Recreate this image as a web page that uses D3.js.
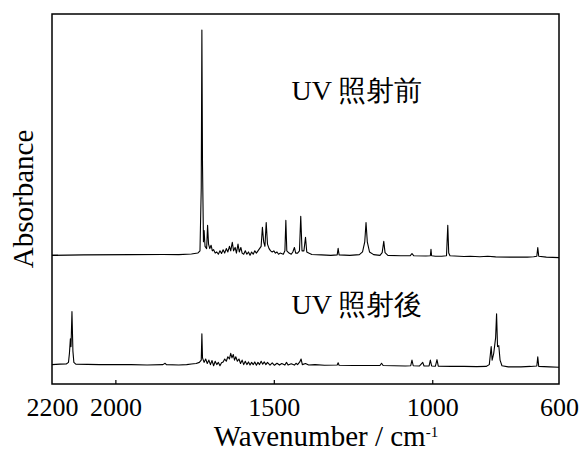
<!DOCTYPE html>
<html>
<head>
<meta charset="utf-8">
<script src="https://cdn.jsdelivr.net/npm/d3@7"></script>
<style>
  body { margin: 0; background: #fff; }
  svg { display: block; }
</style>
</head>
<body>
<div id="chart"></div>
<script>
// Tick labels on the reversed wavenumber axis
const xTicks = [2200, 2000, 1500, 1000, 600];

// Spectrum labels
const labelBefore = 'UV 照射前';
const labelAfter = 'UV 照射後';

// Vertical offsets of each trace (arbitrary absorbance units)
const offsetBefore = 0.571;
const offsetAfter = 0.086;

// Before UV irradiation: [wavenumber, absorbance above its baseline]
const spectrumBefore = [
    [2200, 0.000], [2100, 0.002], [1950, 0.003], [1850, 0.004], [1800, 0.003],
    [1760, 0.006], [1740, 0.010], [1733, 0.020], [1729, 0.300], [1727, 1.000],
    [1725, 0.400], [1722, 0.060], [1720, 0.110], [1717, 0.040], [1712, 0.030],
    [1709, 0.133], [1706, 0.050], [1702, 0.030], [1698, 0.045], [1694, 0.020],
    [1690, 0.025], [1685, 0.010], [1680, 0.015], [1675, 0.005], [1670, 0.020],
    [1665, 0.008], [1660, 0.025], [1655, 0.010], [1650, 0.030], [1645, 0.015],
    [1640, 0.040], [1636, 0.020], [1631, 0.058], [1627, 0.020], [1622, 0.035],
    [1618, 0.010], [1613, 0.050], [1609, 0.015], [1604, 0.035], [1600, 0.010],
    [1595, 0.005], [1590, 0.020], [1585, 0.005], [1580, 0.015], [1575, 0.000],
    [1570, 0.015], [1565, 0.005], [1560, 0.020], [1555, 0.010], [1550, 0.020],
    [1545, 0.030], [1540, 0.040], [1536, 0.124], [1532, 0.060], [1528, 0.040],
    [1524, 0.146], [1520, 0.050], [1515, 0.030], [1510, 0.020], [1505, 0.015],
    [1500, 0.020], [1495, 0.010], [1490, 0.015], [1485, 0.005], [1480, 0.010],
    [1470, 0.005], [1465, 0.020], [1462, 0.155], [1459, 0.020], [1452, 0.010],
    [1445, 0.005], [1440, 0.015], [1435, 0.035], [1431, 0.010], [1425, 0.010],
    [1419, 0.020], [1415, 0.173], [1411, 0.020], [1405, 0.020], [1400, 0.080],
    [1396, 0.015], [1390, 0.010], [1380, 0.004], [1350, 0.002], [1320, 0.000],
    [1300, 0.002], [1297, 0.031], [1294, 0.002], [1260, 0.000], [1230, 0.003],
    [1220, 0.015], [1213, 0.060], [1209, 0.146], [1205, 0.060], [1198, 0.015],
    [1185, 0.003], [1165, 0.000], [1158, 0.012], [1153, 0.062], [1149, 0.012],
    [1140, 0.000], [1100, -0.002], [1070, -0.002], [1064, 0.008], [1058, -0.002],
    [1020, -0.003], [1006, -0.002], [1004, 0.027], [1002, -0.002], [990, -0.004],
    [970, -0.004], [955, -0.002], [951, 0.133], [948, 0.010], [944, -0.002],
    [900, -0.005], [880, -0.004], [850, -0.006], [825, -0.004], [800, -0.007],
    [750, -0.008], [700, -0.008], [680, -0.006], [670, -0.004], [667, 0.035],
    [664, -0.004], [640, -0.008], [600, -0.010]
];

// After UV irradiation
const spectrumAfter = [
    [2200, 0.000], [2175, 0.002], [2155, 0.003], [2148, 0.010], [2145, 0.050],
    [2142, 0.115], [2140, 0.080], [2137, 0.235], [2134, 0.060], [2131, 0.010],
    [2125, 0.002], [2050, 0.000], [2000, 0.000], [1950, 0.000], [1900, -0.002],
    [1850, 0.000], [1843, 0.006], [1839, 0.000], [1800, -0.002], [1775, 0.000],
    [1760, 0.003], [1745, 0.005], [1735, 0.010], [1729, 0.020], [1727, 0.137],
    [1725, 0.030], [1720, 0.010], [1715, 0.025], [1710, 0.005], [1705, 0.020],
    [1700, 0.000], [1695, 0.018], [1690, -0.005], [1685, 0.015], [1680, 0.000],
    [1675, 0.010], [1670, -0.005], [1665, 0.008], [1660, 0.012], [1655, 0.025],
    [1650, 0.015], [1645, 0.035], [1640, 0.025], [1636, 0.050], [1632, 0.030],
    [1628, 0.045], [1624, 0.020], [1620, 0.035], [1615, 0.015], [1610, 0.025],
    [1605, 0.005], [1600, 0.020], [1595, 0.000], [1590, 0.015], [1585, 0.000],
    [1580, 0.012], [1575, -0.002], [1570, 0.010], [1565, 0.000], [1560, 0.012],
    [1555, -0.003], [1550, 0.010], [1545, 0.000], [1540, 0.015], [1535, 0.002],
    [1530, 0.012], [1525, 0.000], [1520, 0.010], [1512, -0.002], [1505, 0.008],
    [1498, -0.003], [1490, 0.006], [1482, -0.002], [1475, 0.005], [1465, -0.002],
    [1460, 0.010], [1455, -0.002], [1445, 0.004], [1435, -0.002], [1430, 0.006],
    [1425, 0.000], [1418, 0.012], [1414, 0.025], [1410, 0.000], [1400, 0.005],
    [1390, -0.002], [1370, 0.000], [1340, -0.003], [1300, -0.002], [1297, 0.008],
    [1294, -0.003], [1250, -0.004], [1200, -0.004], [1165, -0.004], [1160, 0.006],
    [1155, -0.004], [1120, -0.005], [1085, -0.006], [1068, -0.005], [1064, 0.020],
    [1060, -0.005], [1040, -0.006], [1030, 0.010], [1026, -0.006], [1010, -0.006],
    [1006, 0.020], [1002, -0.006], [990, -0.007], [985, 0.022], [981, -0.007],
    [940, -0.008], [900, -0.008], [860, -0.009], [830, -0.008], [820, 0.000],
    [814, 0.080], [811, 0.020], [806, 0.050], [800, 0.120], [797, 0.226],
    [794, 0.080], [790, 0.084], [786, 0.020], [780, -0.005], [760, -0.010],
    [720, -0.010], [690, -0.008], [670, -0.006], [667, 0.035], [664, -0.008],
    [630, -0.010], [600, -0.012]
];

const serif = 'Liberation Serif';

const width = 579;
const height = 453;
const margin = { top: 14, right: 20, bottom: 69, left: 52 };
const innerW = width - margin.left - margin.right;
const innerH = height - margin.top - margin.bottom;

const svg = d3.select('#chart').append('svg')
    .attr('width', width)
    .attr('height', height);

const g = svg.append('g')
    .attr('transform', `translate(${margin.left},${margin.top})`);

// Wavenumber axis runs right to left
const x = d3.scaleLinear()
    .domain([2200, 600])
    .range([0, innerW]);

const y = d3.scaleLinear()
    .domain([0, 1.642])
    .range([innerH, 0]);

const line = offset => d3.line()
    .x(d => x(d[0]))
    .y(d => y(d[1] + offset));

// Spectra
g.append('path')
    .datum(spectrumBefore)
    .attr('fill', 'none')
    .attr('stroke', '#000')
    .attr('stroke-width', 1.1)
    .attr('stroke-linejoin', 'round')
    .attr('d', line(offsetBefore));

g.append('path')
    .datum(spectrumAfter)
    .attr('fill', 'none')
    .attr('stroke', '#000')
    .attr('stroke-width', 1.1)
    .attr('stroke-linejoin', 'round')
    .attr('d', line(offsetAfter));

// Bottom axis with small inward ticks
const xAxis = g.append('g')
    .attr('transform', `translate(0,${innerH})`)
    .call(d3.axisBottom(x).tickValues(xTicks).tickSize(-4).tickPadding(14).tickFormat(d3.format('d')));
xAxis.attr('font-family', serif).attr('font-size', 26);
xAxis.select('.domain').remove();
xAxis.selectAll('.tick line')
    .attr('stroke', '#000')
    .attr('stroke-width', 1.2)
    .attr('display', d => (d === 2200 || d === 600) ? 'none' : null);
xAxis.selectAll('.tick text')
    .attr('fill', '#000')
    .attr('dy', '0.71em');

// Baseline marker on the left edge
g.append('line')
    .attr('x1', 0)
    .attr('x2', 6)
    .attr('y1', y(offsetBefore))
    .attr('y2', y(offsetBefore))
    .attr('stroke', '#000')
    .attr('stroke-width', 1.2);

// Frame
g.append('rect')
    .attr('x', 0)
    .attr('y', 0)
    .attr('width', innerW)
    .attr('height', innerH)
    .attr('fill', 'none')
    .attr('stroke', '#000')
    .attr('stroke-width', 1.5);

// Spectrum labels
g.append('text')
    .attr('x', 305)
    .attr('y', 86)
    .attr('text-anchor', 'middle')
    .attr('font-family', serif)
    .attr('font-size', 28)
    .text(labelBefore);

g.append('text')
    .attr('x', 305)
    .attr('y', 300)
    .attr('text-anchor', 'middle')
    .attr('font-family', serif)
    .attr('font-size', 28)
    .text(labelAfter);

// Axis titles
const xTitle = svg.append('text')
    .attr('x', 326)
    .attr('y', 446)
    .attr('text-anchor', 'middle')
    .attr('font-family', serif)
    .attr('font-size', 29);
xTitle.append('tspan').text('Wavenumber / cm');
xTitle.append('tspan')
    .attr('font-size', 15)
    .attr('dy', '-9')
    .text('-1');

svg.append('text')
    .attr('transform', 'rotate(-90)')
    .attr('x', -199)
    .attr('y', 33)
    .attr('text-anchor', 'middle')
    .attr('font-family', serif)
    .attr('font-size', 29)
    .text('Absorbance');
</script>
</body>
</html>
